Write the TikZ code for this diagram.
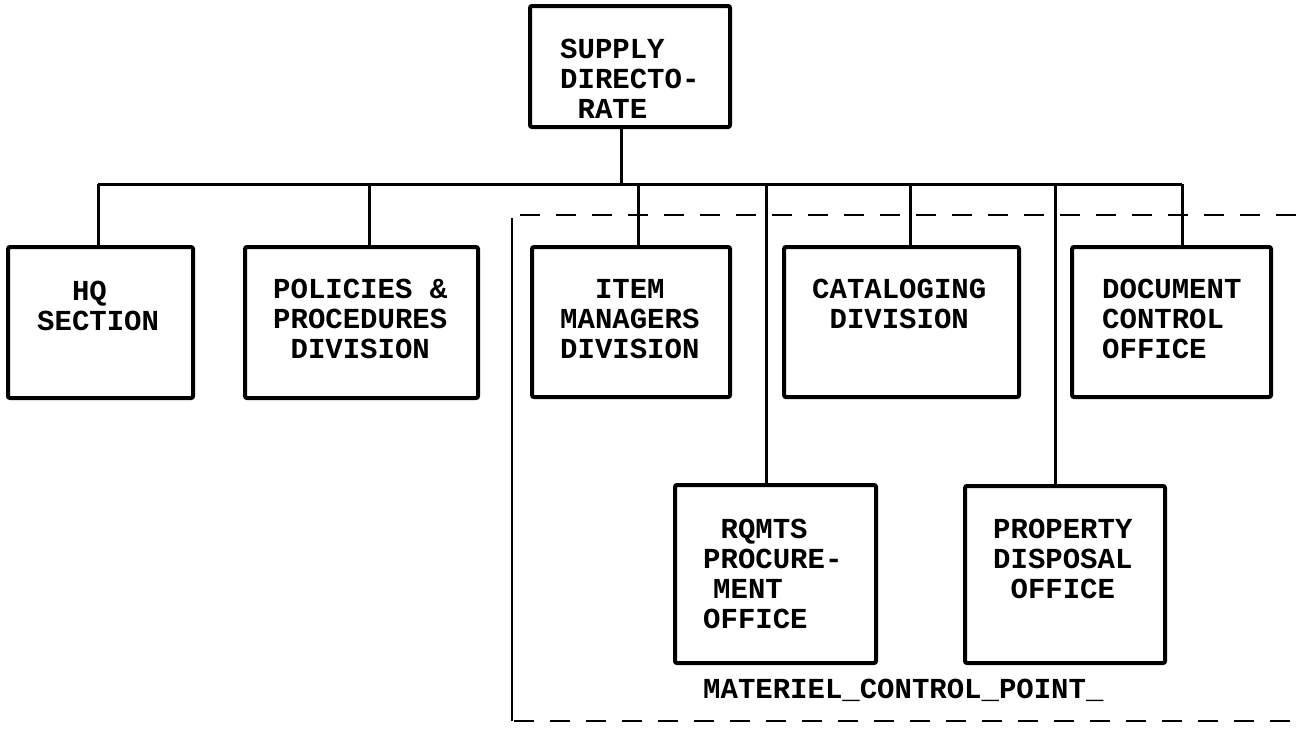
\documentclass[tikz,border=0pt]{standalone}
\usepackage{fontspec}
\setmonofont{Liberation Mono}
\tikzset{
  box/.style={draw, line width=4pt, rounded corners=2pt, inner sep=0pt},
  conn/.style={line width=3pt},
  frame/.style={line width=2.5pt, dash pattern=on 20pt off 16pt},
  txt/.style={anchor=base west, align=left, inner sep=0pt,
    font=\ttfamily\bfseries\fontsize{29}{30}\selectfont}
}
\begin{document}
\begin{tikzpicture}[x=1pt,y=-1pt]
\useasboundingbox (0,0) rectangle (1303,728);
% boxes
\node[box, minimum width=200pt, minimum height=121pt] (top) at (630,66.5) {};
\node[box, minimum width=185pt, minimum height=151pt] (hq) at (100.5,322.5) {};
\node[box, minimum width=233pt, minimum height=151pt] (pol) at (361.5,322.5) {};
\node[box, minimum width=198pt, minimum height=150pt] (item) at (631,322) {};
\node[box, minimum width=235pt, minimum height=150pt] (cat) at (901.5,322) {};
\node[box, minimum width=199pt, minimum height=150pt] (doc) at (1171.5,322) {};
\node[box, minimum width=201pt, minimum height=178pt] (rq) at (775.5,574) {};
\node[box, minimum width=200pt, minimum height=177pt] (prop) at (1065,574.5) {};
% texts (anchor = baseline of last line)
\node[txt] (topt) at (560,118) {SUPPLY\\DIRECTO-\\\hphantom{X}RATE};
\node[txt] (hqt) at (37,330) {\hphantom{XX}HQ\\SECTION};
\node[txt] (polt) at (273,358) {POLICIES \&\\PROCEDURES\\\hphantom{X}DIVISION};
\node[txt] (itemt) at (560,358) {\hphantom{XX}ITEM\\MANAGERS\\DIVISION};
\node[txt] (catt) at (812,328) {CATALOGING\\\hphantom{X}DIVISION};
\node[txt] (doct) at (1102,358) {DOCUMENT\\CONTROL\\OFFICE};
\node[txt] (rqt) at (703,628) {\hphantom{X}RQMTS\\PROCURE-\\\hspace*{10pt}MENT\\OFFICE};
\node[txt] (propt) at (993,598) {PROPERTY\\DISPOSAL\\\hphantom{X}OFFICE};
\node[txt] (mcp) at (703,698) {MATERIEL\_CONTROL\_POINT\_};
% bus coordinates
\coordinate (btop) at (621,184);
\coordinate (bhq) at (98,184);
\coordinate (bpol) at (369,184);
\coordinate (bitem) at (638,184);
\coordinate (brq) at (766,184);
\coordinate (bcat) at (910,184);
\coordinate (bprop) at (1055,184);
\coordinate (bdoc) at (1182,184);
% frame
\draw[line width=2pt] (512,218) -- (512,721);
\draw[frame] (520,215) -- (1303,215);
\draw[frame] (514,721) -- (1303,721);
% connectors
\draw[conn] (top.south -| btop) -- (btop);
\draw[conn] (bhq) -- (bdoc);
\draw[conn] (bhq) -- (bhq |- hq.north);
\draw[conn] (bpol) -- (bpol |- pol.north);
\draw[conn] (bitem) -- (bitem |- item.north);
\draw[conn] (bcat) -- (bcat |- cat.north);
\draw[conn] (bdoc) -- (bdoc |- doc.north);
\draw[conn] (brq) -- (brq |- rq.north);
\draw[conn] (bprop) -- (bprop |- prop.north);
\end{tikzpicture}
\end{document}
